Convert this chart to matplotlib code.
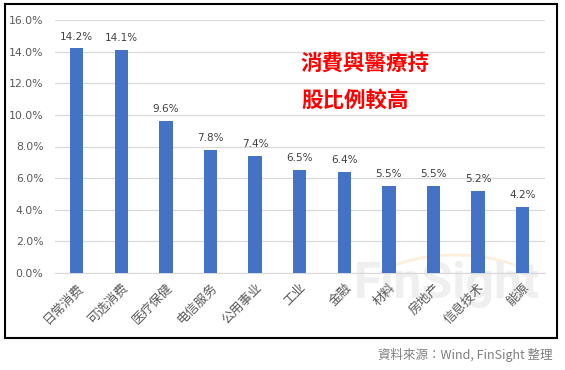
import matplotlib
matplotlib.use("Agg")
import matplotlib.pyplot as plt
from matplotlib.patches import Rectangle, Arc
import numpy as np

categories = ["日常消费", "可选消费", "医疗保健", "电信服务", "公用事业", "工业",
              "金融", "材料", "房地产", "信息技术", "能源"]
values = [14.2, 14.1, 9.6, 7.8, 7.4, 6.5, 6.4, 5.5, 5.5, 5.2, 4.2]
yticks = [0, 2, 4, 6, 8, 10, 12, 14, 16]

W, H = 565, 370
fig = plt.figure(figsize=(W / 100, H / 100), dpi=100)
fig.patch.set_facecolor("white")

# background layer for watermark
bg = fig.add_axes([0, 0, 1, 1], zorder=-5)
bg.set_xlim(0, W)
bg.set_ylim(H, 0)
bg.axis("off")
bg.text(447, 285, "FinSight", ha="center", va="center",
        fontsize=36, color="#efefef", fontweight="bold",
        family=["Roboto", "DejaVu Sans"])
bg.add_patch(Arc((455, 300), 190, 90, theta1=200, theta2=340,
                 color="#fcefdc", linewidth=2))

# outer black frame
fig.add_artist(Rectangle((5 / W, 1 - 338 / H), (557 - 5) / W, (338 - 4) / H,
                         transform=fig.transFigure, fill=False,
                         edgecolor="black", linewidth=1.5))

ax = fig.add_axes([54.5 / W, 1 - 273 / H, (545 - 54.5) / W, (273 - 20) / H], zorder=1)
ax.set_facecolor("none")
x = np.arange(len(categories))
ax.bar(x, values, width=0.3, color="#4472C4", zorder=3)
ax.set_xlim(-0.5, len(categories) - 0.5)
ax.set_ylim(0, 16)
ax.set_yticks(yticks)
ax.set_yticklabels([f"{v:.1f}%" for v in yticks], fontsize=7.8, color="#595959",
                   family=["DejaVu Sans"])
ax.yaxis.grid(True, color="#d9d9d9", linewidth=0.9, zorder=0)
ax.set_axisbelow(True)
for s in ["top", "right", "left"]:
    ax.spines[s].set_visible(False)
ax.spines["bottom"].set_color("#d9d9d9")
ax.tick_params(axis="both", length=0)
ax.tick_params(axis="y", pad=8)
ax.set_xticks(x)
ax.set_xticklabels(categories, rotation=45, ha="right", rotation_mode="anchor",
                   fontsize=9.2, color="#595959",
                   family=["Noto Sans CJK SC", "DejaVu Sans"])
ax.tick_params(axis="x", pad=6)

for xi, v in zip(x, values):
    ax.annotate(f"{v:.1f}%", (xi, v), xytext=(0, 5), textcoords="offset points",
                ha="center", va="bottom", fontsize=7.5, color="#404040",
                family=["DejaVu Sans"])

fig.text(301 / W, 1 - 63 / H, "消費與醫療持", fontsize=15.5, color="#ff0000",
         family=["Noto Sans CJK TC", "DejaVu Sans"], va="center", ha="left",
         fontweight="bold")
fig.text(301 / W, 1 - 100 / H, "股比例較高", fontsize=15.5, color="#ff0000",
         family=["Noto Sans CJK TC", "DejaVu Sans"], va="center", ha="left",
         fontweight="bold")

fig.text(552 / W, 1 - 355 / H, "資料來源：Wind, FinSight 整理", fontsize=9,
         color="#7f7f7f", ha="right", va="center",
         family=["Noto Sans CJK TC", "DejaVu Sans"])

fig.savefig("out.png", dpi=100)
